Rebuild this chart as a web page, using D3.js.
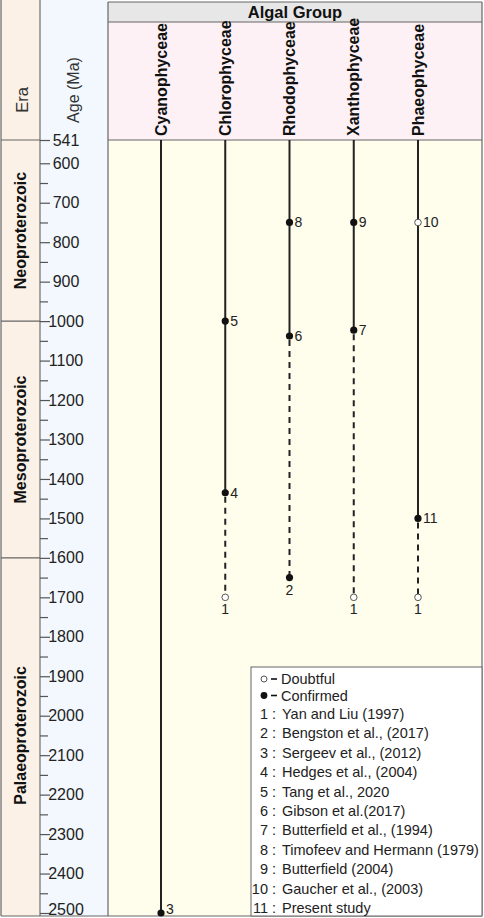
<!DOCTYPE html>
<html lang="en">
<head>
<meta charset="UTF-8">
<title>Algal Group ranges</title>
<script src="https://d3js.org/d3.v7.min.js"></script>
<style>
  body { margin: 0; background: #fff; }
  svg { display: block; font-family: "Liberation Sans", Arial, sans-serif; }
  .frame { stroke: #666; stroke-width: 1.2px; fill: none; }
  .axis path { stroke: #555; }
  .axis line { stroke: #555; stroke-width: 1.2px; }
  .axis text { font-size: 16px; fill: #222; }
  .solid { stroke: #222; stroke-width: 2px; fill: none; }
  .dashed { stroke: #222; stroke-width: 2px; fill: none; stroke-dasharray: 6,5; }
  .ref-label { font-size: 14px; fill: #222; }
  .legend text { font-size: 14.5px; fill: #222; }
</style>
</head>
<body>
<div id="container"></div>
<script>
// --- data ---
const groups = ["Cyanophyceae", "Chlorophyceae", "Rhodophyceae", "Xanthophyceae", "Phaeophyceae"];
const eras = ["Neoproterozoic", "Mesoproterozoic", "Palaeoproterozoic"];
const eraBounds = [[541, 1000], [1000, 1600], [1600, 2500]];
const ageTicks = [541, 600, 700, 800, 900, 1000, 1100, 1200, 1300, 1400, 1500, 1600,
                  1700, 1800, 1900, 2000, 2100, 2200, 2300, 2400, 2500];
const minorTicks = d3.range(650, 2500, 100);
// confirmed (solid) range and uncertain (dashed) range for each group
const solidRanges = [[541, 2500], [541, 1435], [541, 1038], [541, 1023], [541, 1500]];
const dashedRanges = [null, [1435, 1700], [1038, 1650], [1023, 1700], [1500, 1700]];
// records: group, age (Ma), reference number, doubtful?
const records = [
  {group: "Cyanophyceae", age: 2500, ref: 3, doubtful: false},
  {group: "Chlorophyceae", age: 1000, ref: 5, doubtful: false},
  {group: "Chlorophyceae", age: 1435, ref: 4, doubtful: false},
  {group: "Chlorophyceae", age: 1700, ref: 1, doubtful: true},
  {group: "Rhodophyceae", age: 750, ref: 8, doubtful: false},
  {group: "Rhodophyceae", age: 1038, ref: 6, doubtful: false},
  {group: "Rhodophyceae", age: 1650, ref: 2, doubtful: false},
  {group: "Xanthophyceae", age: 750, ref: 9, doubtful: false},
  {group: "Xanthophyceae", age: 1023, ref: 7, doubtful: false},
  {group: "Xanthophyceae", age: 1700, ref: 1, doubtful: true},
  {group: "Phaeophyceae", age: 750, ref: 10, doubtful: true},
  {group: "Phaeophyceae", age: 1500, ref: 11, doubtful: false},
  {group: "Phaeophyceae", age: 1700, ref: 1, doubtful: true}
];
const references = [
  "Yan and Liu (1997)", "Bengston et al., (2017)", "Sergeev et al., (2012)",
  "Hedges et al., (2004)", "Tang et al., 2020", "Gibson et al.(2017)",
  "Butterfield et al., (1994)", "Timofeev and Hermann (1979)", "Butterfield (2004)",
  "Gaucher et al., (2003)", "Present study"
];

const width = 484, height = 918;
const eraX = [1, 40], ageX = [40, 108], mainX = [108, 482];
const topY = 2, headerBottom = 22, plotTop = 140, bottomY = 916;

const svg = d3.select("#container").append("svg")
    .attr("width", width).attr("height", height)
    .attr("viewBox", `0 0 ${width} ${height}`);

const yScale = d3.scaleLinear().domain([541, 2500]).range([plotTop, 913]);
const xScale = d3.scalePoint().domain(groups).range([161, 418]);

// backgrounds
svg.append("rect").attr("x", eraX[0]).attr("y", 0).attr("width", eraX[1] - eraX[0])
    .attr("height", bottomY).attr("fill", "#fcf1e6");
svg.append("rect").attr("x", ageX[0]).attr("y", 0).attr("width", ageX[1] - ageX[0])
    .attr("height", bottomY).attr("fill", "#f2f8fe");
svg.append("rect").attr("x", mainX[0]).attr("y", topY).attr("width", mainX[1] - mainX[0])
    .attr("height", headerBottom - topY).attr("fill", "#e7e7e7");
svg.append("rect").attr("x", mainX[0]).attr("y", headerBottom).attr("width", mainX[1] - mainX[0])
    .attr("height", plotTop - headerBottom).attr("fill", "#fdf1f5");
svg.append("rect").attr("x", mainX[0]).attr("y", plotTop).attr("width", mainX[1] - mainX[0])
    .attr("height", bottomY - plotTop).attr("fill", "#fffdec");

// frame lines
const frame = svg.append("g").attr("class", "frame");
frame.append("line").attr("x1", eraX[0]).attr("x2", eraX[0]).attr("y1", 0).attr("y2", bottomY);
frame.append("line").attr("x1", mainX[0]).attr("x2", mainX[0]).attr("y1", topY).attr("y2", bottomY);
frame.append("line").attr("x1", mainX[1]).attr("x2", mainX[1]).attr("y1", topY).attr("y2", bottomY);
frame.append("line").attr("x1", mainX[0]).attr("x2", mainX[1]).attr("y1", topY).attr("y2", topY);
frame.append("line").attr("x1", mainX[0]).attr("x2", mainX[1]).attr("y1", headerBottom).attr("y2", headerBottom);
frame.append("line").attr("x1", mainX[0]).attr("x2", mainX[1]).attr("y1", plotTop).attr("y2", plotTop);
frame.append("line").attr("x1", eraX[0]).attr("x2", mainX[1]).attr("y1", bottomY).attr("y2", bottomY);
// era boundaries
frame.selectAll(".era-line")
    .data(eraBounds.map(d => d[0]))
    .enter().append("line")
    .attr("x1", eraX[0]).attr("x2", eraX[1])
    .attr("y1", d => yScale(d)).attr("y2", d => yScale(d));

// age axis
const axisG = svg.append("g").attr("class", "axis")
    .attr("transform", `translate(${ageX[0]},0)`);
axisG.call(d3.axisRight(yScale).tickValues(ageTicks).tickSize(10).tickSizeOuter(0).tickFormat(d3.format("d")));
axisG.select(".domain").attr("d", `M0,0V${bottomY}`);
axisG.selectAll(".tick text")
    .attr("x", 26).attr("text-anchor", "middle")
    .attr("dy", d => d === 2500 ? "0.1em" : "0.32em");
const minorG = svg.append("g").attr("class", "axis")
    .attr("transform", `translate(${ageX[0]},0)`);
minorG.call(d3.axisRight(yScale).tickValues(minorTicks).tickSize(8).tickFormat(""));
minorG.select(".domain").remove();

// column titles
svg.append("text").attr("x", 22).attr("y", 100)
    .attr("transform", "rotate(-90,22,100)")
    .attr("text-anchor", "middle").attr("dy", "0.35em")
    .attr("font-size", 16.5).attr("fill", "#333").text("Era");
svg.append("text").attr("x", 73).attr("y", 90)
    .attr("transform", "rotate(-90,73,90)")
    .attr("text-anchor", "middle").attr("dy", "0.35em")
    .attr("font-size", 16).attr("fill", "#333").text("Age (Ma)");
svg.append("text").attr("x", (mainX[0] + mainX[1]) / 2).attr("y", 12)
    .attr("text-anchor", "middle").attr("dy", "0.35em")
    .attr("font-size", 16.5).attr("font-weight", "bold").attr("fill", "#111").text("Algal Group");

// era labels
svg.selectAll(".era-label")
    .data(eras)
    .enter().append("text")
    .attr("class", "era-label")
    .attr("transform", (d, i) => `translate(20,${(yScale(eraBounds[i][0]) + yScale(eraBounds[i][1])) / 2}) rotate(-90)`)
    .attr("text-anchor", "middle").attr("dy", "0.35em")
    .attr("font-size", 16).attr("font-weight", "bold").attr("fill", "#111")
    .text(d => d);

// group labels
svg.selectAll(".group-label")
    .data(groups)
    .enter().append("text")
    .attr("class", "group-label")
    .attr("transform", d => `translate(${xScale(d)},136) rotate(-90)`)
    .attr("dy", "0.35em")
    .attr("font-size", 16).attr("font-weight", "bold").attr("fill", "#111")
    .text(d => d);

// ranges
svg.append("g").selectAll("line")
    .data(groups)
    .enter().append("line")
    .attr("class", "solid")
    .attr("x1", d => xScale(d)).attr("x2", d => xScale(d))
    .attr("y1", (d, i) => yScale(solidRanges[i][0]))
    .attr("y2", (d, i) => yScale(solidRanges[i][1]));
svg.append("g").selectAll("line")
    .data(groups.filter((d, i) => dashedRanges[i]))
    .enter().append("line")
    .attr("class", "dashed")
    .attr("x1", d => xScale(d)).attr("x2", d => xScale(d))
    .attr("y1", d => yScale(dashedRanges[groups.indexOf(d)][0]) + 4)
    .attr("y2", d => yScale(dashedRanges[groups.indexOf(d)][1]));

// markers
const isDashEnd = d => {
  const r = dashedRanges[groups.indexOf(d.group)];
  return r && r[1] === d.age;
};
svg.append("g").selectAll("circle")
    .data(records)
    .enter().append("circle")
    .attr("cx", d => xScale(d.group)).attr("cy", d => yScale(d.age))
    .attr("r", d => d.doubtful ? 3.3 : 3.6)
    .attr("fill", d => d.doubtful ? "#fff" : "#111")
    .attr("stroke", d => d.doubtful ? "#555" : "none")
    .attr("stroke-width", 1);
svg.append("g").selectAll("text")
    .data(records)
    .enter().append("text")
    .attr("class", "ref-label")
    .attr("x", d => isDashEnd(d) ? xScale(d.group) : xScale(d.group) + 5)
    .attr("y", d => isDashEnd(d) ? yScale(d.age) + 17 : Math.min(yScale(d.age), bottomY - 7))
    .attr("dy", d => isDashEnd(d) ? 0 : "0.35em")
    .attr("text-anchor", d => isDashEnd(d) ? "middle" : "start")
    .text(d => d.ref);

// legend
const legend = svg.append("g").attr("class", "legend");
legend.append("rect").attr("x", 251).attr("y", 667).attr("width", mainX[1] - 251)
    .attr("height", bottomY - 667).attr("fill", "#fff").attr("stroke", "#666").attr("stroke-width", 1);
const keys = [{label: "Doubtful", doubtful: true}, {label: "Confirmed", doubtful: false}];
const keyG = legend.selectAll(".key").data(keys).enter().append("g")
    .attr("transform", (d, i) => `translate(0,${679 + i * 16.5})`);
keyG.append("circle").attr("cx", 264).attr("cy", 0).attr("r", d => d.doubtful ? 3 : 3.4)
    .attr("fill", d => d.doubtful ? "#fff" : "#111")
    .attr("stroke", d => d.doubtful ? "#555" : "none");
keyG.append("line").attr("x1", 271).attr("x2", 277).attr("y1", 0).attr("y2", 0)
    .attr("stroke", "#111").attr("stroke-width", 1.6);
keyG.append("text").attr("x", 281).attr("dy", "0.35em").text(d => d.label);
const refG = legend.selectAll(".ref").data(references).enter().append("g")
    .attr("transform", (d, i) => `translate(0,${714 + i * 19.4})`);
refG.append("text").attr("x", 268).attr("dy", "0.35em").attr("text-anchor", "end").text((d, i) => i + 1);
refG.append("text").attr("x", 272).attr("dy", "0.35em").text(":");
refG.append("text").attr("x", 282).attr("dy", "0.35em").text(d => d);
</script>
</body>
</html>
